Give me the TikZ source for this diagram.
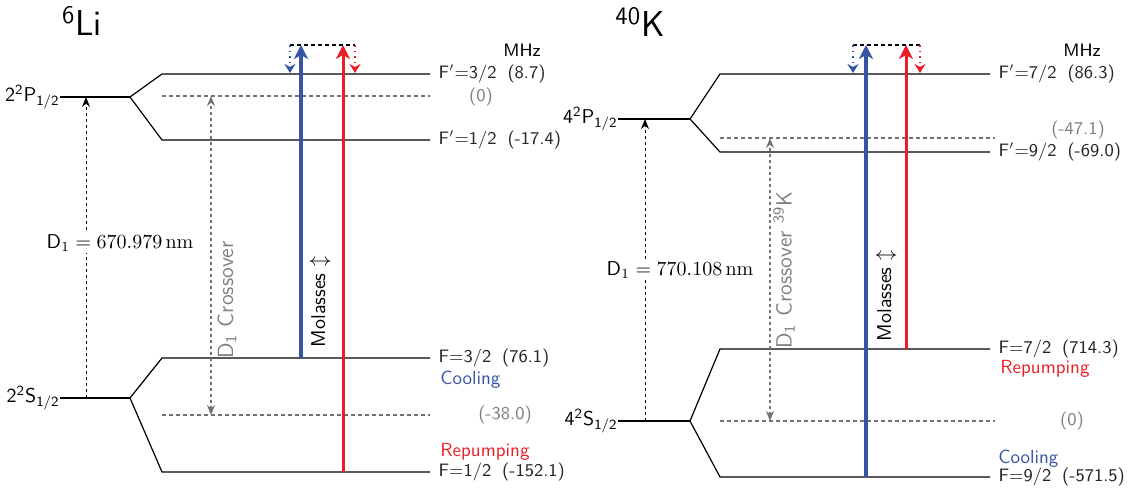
\documentclass[tikz,border=0pt]{standalone}
\usepackage{xcolor}
\definecolor{coolblue}{RGB}{52,84,164}
\definecolor{repred}{RGB}{234,30,38}
\usepackage{tikz}
\usetikzlibrary{arrows.meta}
\newcommand{\fsz}[1]{\sffamily\fontsize{#1}{#1}\selectfont}

\begin{document}
\begin{tikzpicture}[x=0.5pt,y=-0.5pt,
  lvl/.style={line width=0.6pt},
  refline/.style={dash pattern=on 2pt off 1.5pt,black!55,line width=0.6pt},
  term/.style={font=\fsz{10},inner sep=0pt},
  hfs/.style={font=\fsz{9},anchor=west,inner sep=0pt,text=black!85,xshift=4pt},
  shiftlbl/.style={font=\fsz{9},inner sep=0pt,text=black!50},
  beamlbl/.style={font=\fsz{9.5},anchor=west,inner sep=0pt},
  optline/.style={dash pattern=on 1.5pt off 1.5pt,line width=0.5pt,-{Stealth[length=5pt,width=4pt]}},
  xover/.style={dash pattern=on 1.5pt off 1.5pt,black!55,line width=0.6pt,{Stealth[length=5pt,width=4pt]}-{Stealth[length=5pt,width=4pt]}},
  xlbl/.style={font=\fsz{11},text=black!50,rotate=90,inner sep=0pt},
  beam/.style={-{Stealth[length=7pt,width=7pt,inset=2pt]}},
  detune/.style={dotted,line width=0.8pt,-{Stealth[length=4.5pt,width=5.5pt]}},
  moltxt/.style={font=\fsz{10},rotate=90,inner sep=0pt},
]
\useasboundingbox (0,0) rectangle (1131,490);
% ---- 6Li ----
\node[font=\fsz{18}] (li) at (82,21) {\textsuperscript{6}Li};
\node[font=\fsz{9}] (liMHz) at (522,50) {MHz};
% P-Niveau
\node[term,anchor=east] (liP) at (60,97) {2\textsuperscript{2}P\textsubscript{1/2}};
\coordinate (liPj) at (130,97);
\draw[lvl] (liP.east) -- (liPj);
\draw[lvl] (liPj) -- (162,74) -- (430,74) node[hfs] (liF3p) {F$'$=3/2\hspace{0.6em}(8.7)};
\draw[lvl] (liPj) -- (162,140) -- (430,140) node[hfs] (liF1p) {F$'$=1/2\hspace{0.6em}(-17.4)};
\draw[refline] (162,96) -- (430,96);
\node[shiftlbl] (liP0) at (481,97) {(0)};
% S-Niveau
\node[term,anchor=east] (liS) at (60,398) {2\textsuperscript{2}S\textsubscript{1/2}};
\coordinate (liSj) at (130,398);
\draw[lvl] (liS.east) -- (liSj);
\draw[lvl] (liSj) -- (162,358) -- (430,358) node[hfs] (liF3) {F=3/2\hspace{0.6em}(76.1)};
\draw[lvl] (liSj) -- (162,472) -- (430,472) node[hfs] (liF1) {F=1/2\hspace{0.6em}(-152.1)};
\draw[refline] (162,415) -- (430,415);
\node[shiftlbl] (liS0) at (505,415) {(-38.0)};
\node[beamlbl,text=coolblue] (liCool) at (440,380) {Cooling};
\node[beamlbl,text=repred] (liRep) at (440,452) {Repumping};
% D1 und Crossover
\coordinate (liD1a) at (86,398); \coordinate (liD1b) at (86,97);
\draw[optline] (liD1a) -- (liD1b);
\node[font=\fsz{10},fill=white,inner sep=1pt] (liD1) at (120,243) {D$_1=670.979\,\mathrm{nm}$};
\coordinate (liXa) at (211,415); \coordinate (liXb) at (211,96);
\draw[xover] (liXa) -- (liXb);
\node[xlbl] (liX) at (227,300) {D\textsubscript{1} Crossover};
% Laser
\coordinate (liCa) at (301,358); \coordinate (liCb) at (301,45);
\coordinate (liRa) at (343,472); \coordinate (liRb) at (343,45);
\coordinate (liCd) at (290,45); \coordinate (liRd) at (355,45);
\draw[beam,coolblue,line width=2pt] (liCa) -- (liCb);
\draw[beam,repred,line width=1.5pt] (liRa) -- (liRb);
\draw[dash pattern=on 2pt off 1.5pt,line width=0.6pt] (liCd) -- (liRd);
\draw[detune,coolblue] (liCd) -- (290,73);
\draw[detune,repred] (liRd) -- (355,73);
\node[moltxt] (liMol) at (320,302) {Molasses $\updownarrow$};
% ---- 40K ----
\node[font=\fsz{18}] (k) at (640,22) {\textsuperscript{40}K};
\node[font=\fsz{9}] (kMHz) at (1082,50) {MHz};
% P-Niveau
\node[term,anchor=east] (kP) at (618,119) {4\textsuperscript{2}P\textsubscript{1/2}};
\coordinate (kPj) at (690,119);
\draw[lvl] (kP.east) -- (kPj);
\draw[lvl] (kPj) -- (720,74) -- (990,74) node[hfs] (kF7p) {F$'$=7/2\hspace{0.6em}(86.3)};
\draw[lvl] (kPj) -- (720,152) -- (990,152) node[hfs] (kF9p) {F$'$=9/2\hspace{0.6em}(-69.0)};
\draw[refline] (720,138) -- (995,138);
\node[shiftlbl] (kP0) at (1078,130) {(-47.1)};
% S-Niveau
\node[term,anchor=east] (kS) at (618,421) {4\textsuperscript{2}S\textsubscript{1/2}};
\coordinate (kSj) at (690,421);
\draw[lvl] (kS.east) -- (kSj);
\draw[lvl] (kSj) -- (720,349) -- (990,349) node[hfs] (kF7) {F=7/2\hspace{0.6em}(714.3)};
\draw[lvl] (kSj) -- (720,477) -- (990,477) node[hfs] (kF9) {F=9/2\hspace{0.6em}(-571.5)};
\draw[refline] (720,421) -- (995,421);
\node[shiftlbl] (kS0) at (1072,421) {(0)};
\node[beamlbl,text=repred] (kRep) at (1000,369) {Repumping};
\node[beamlbl,text=coolblue] (kCool) at (998,459) {Cooling};
% D1 und Crossover
\coordinate (kD1a) at (645,421); \coordinate (kD1b) at (645,119);
\draw[optline] (kD1a) -- (kD1b);
\node[font=\fsz{10},fill=white,inner sep=1pt] (kD1) at (680,270) {D$_1=770.108\,\mathrm{nm}$};
\coordinate (kXa) at (770,421); \coordinate (kXb) at (770,138);
\draw[xover] (kXa) -- (kXb);
\node[xlbl] (kX) at (784,270) {D\textsubscript{1} Crossover \textsuperscript{39}K};
% Laser
\coordinate (kCa) at (866,477); \coordinate (kCb) at (866,45);
\coordinate (kRa) at (906,349); \coordinate (kRb) at (906,45);
\coordinate (kCd) at (853,45); \coordinate (kRd) at (920,45);
\draw[beam,coolblue,line width=2pt] (kCa) -- (kCb);
\draw[beam,repred,line width=1.5pt] (kRa) -- (kRb);
\draw[dash pattern=on 2pt off 1.5pt,line width=0.6pt] (kCd) -- (kRd);
\draw[detune,coolblue] (kCd) -- (853,73);
\draw[detune,repred] (kRd) -- (920,73);
\node[moltxt] (kMol) at (886,296) {Molasses $\updownarrow$};
\end{tikzpicture}
\end{document}
